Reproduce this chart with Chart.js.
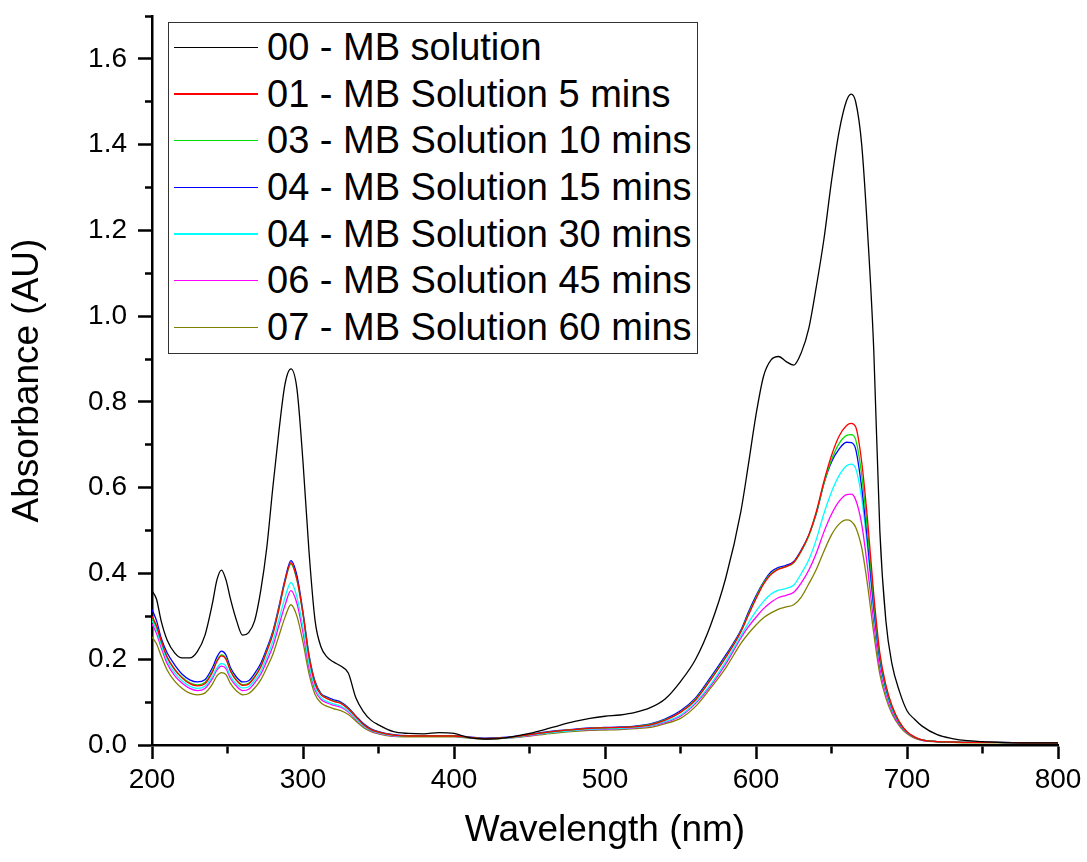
<!DOCTYPE html>
<html>
<head>
<meta charset="utf-8">
<script src="https://cdn.jsdelivr.net/npm/chart.js@4.4.1/dist/chart.umd.min.js"></script>
<style>
  html, body { margin: 0; padding: 0; background: #ffffff; }
  #wrap { position: relative; width: 1087px; height: 862px; }
  #chart { position: absolute; left: 0; top: 0; }
  #legend {
    position: absolute; left: 168px; top: 22px; width: 530px; height: 332px;
    box-sizing: border-box; border: 1px solid #333333; padding-top: 1px;
    background: #ffffff; font-family: 'Liberation Sans', Arial, sans-serif; font-size: 38px; color: #000;
  }
  #legend .row { display: flex; align-items: center; height: 46.67px; line-height: 46.67px; white-space: nowrap; }
  #legend .sw { display: block; flex: none; width: 84px; height: 1.4px; margin-left: 5px; margin-right: 9px; }
</style>
</head>
<body>
<div id="wrap">
  <canvas id="chart" width="1087" height="862"></canvas>
  <div id="legend"></div>
</div>
<script>
// ---------------- data ----------------
const wavelengths = [
  200,203,206,210,215,220,225,230,235,240,
  243,246,249,252,256,260,264,268,272,276,
  280,284,288,292,296,300,304,308,312,316,
  320,325,330,335,340,345,350,360,370,380,
  390,400,410,420,430,440,450,460,470,480,
  490,500,510,520,530,540,550,560,570,580,
  590,595,600,605,610,615,620,625,630,635,
  640,645,650,655,660,663,666,670,674,678,
  682,686,690,695,700,705,710,720,730,740,
  750,760,780,800
];

const s00 = [
  0.36,0.34,0.29,0.245,0.215,0.203,0.203,0.218,0.255,0.33,
  0.385,0.408,0.385,0.34,0.29,0.256,0.262,0.29,0.36,0.46,
  0.6,0.73,0.84,0.877,0.83,0.66,0.45,0.29,0.228,0.205,
  0.194,0.184,0.168,0.11,0.078,0.058,0.047,0.031,0.027,0.026,
  0.029,0.027,0.017,0.014,0.015,0.02,0.027,0.036,0.046,0.055,
  0.062,0.067,0.07,0.076,0.087,0.108,0.148,0.2,0.28,0.39,
  0.545,0.655,0.77,0.86,0.898,0.906,0.894,0.886,0.915,0.972,
  1.07,1.18,1.315,1.43,1.503,1.518,1.5,1.4,1.19,0.92,
  0.5,0.29,0.19,0.125,0.08,0.06,0.044,0.024,0.015,0.01,
  0.008,0.006,0.005,0.005
];

const s01 = [
  0.30,0.278,0.245,0.205,0.176,0.156,0.143,0.138,0.143,0.17,
  0.195,0.208,0.2,0.172,0.15,0.139,0.142,0.158,0.182,0.218,
  0.258,0.316,0.38,0.425,0.386,0.305,0.205,0.143,0.117,0.108,
  0.102,0.097,0.084,0.066,0.048,0.036,0.03,0.023,0.021,0.021,
  0.021,0.021,0.018,0.015,0.016,0.019,0.024,0.029,0.033,0.036,
  0.039,0.04,0.041,0.043,0.047,0.058,0.076,0.105,0.152,0.204,
  0.264,0.303,0.341,0.375,0.398,0.41,0.416,0.426,0.453,0.49,
  0.545,0.615,0.675,0.72,0.745,0.75,0.742,0.66,0.52,0.35,
  0.215,0.14,0.092,0.054,0.031,0.019,0.012,0.008,0.007,0.006,
  0.006,0.006,0.005,0.005
];

const s03 = [
  0.295,0.275,0.242,0.205,0.177,0.158,0.145,0.14,0.146,0.173,
  0.197,0.21,0.202,0.174,0.152,0.141,0.144,0.16,0.184,0.22,
  0.26,0.318,0.38,0.422,0.384,0.305,0.206,0.144,0.118,0.109,
  0.103,0.098,0.085,0.066,0.048,0.036,0.03,0.023,0.021,0.021,
  0.021,0.021,0.018,0.015,0.016,0.019,0.024,0.029,0.033,0.036,
  0.039,0.04,0.041,0.043,0.048,0.059,0.077,0.107,0.154,0.206,
  0.265,0.306,0.344,0.378,0.4,0.411,0.416,0.425,0.452,0.488,
  0.542,0.61,0.665,0.703,0.722,0.724,0.712,0.63,0.495,0.335,
  0.208,0.136,0.09,0.052,0.03,0.018,0.012,0.008,0.007,0.006,
  0.006,0.006,0.005,0.005
];

const s04a = [
  0.316,0.29,0.25,0.215,0.187,0.165,0.152,0.147,0.152,0.18,
  0.205,0.219,0.21,0.18,0.158,0.147,0.15,0.167,0.19,0.225,
  0.265,0.322,0.385,0.43,0.395,0.31,0.21,0.148,0.12,0.112,
  0.106,0.1,0.087,0.068,0.05,0.038,0.031,0.024,0.022,0.022,
  0.022,0.022,0.019,0.016,0.017,0.02,0.025,0.03,0.034,0.037,
  0.04,0.041,0.042,0.044,0.049,0.061,0.08,0.11,0.158,0.21,
  0.268,0.31,0.348,0.38,0.404,0.414,0.419,0.428,0.455,0.49,
  0.54,0.61,0.66,0.69,0.706,0.705,0.69,0.6,0.47,0.32,
  0.2,0.133,0.088,0.051,0.03,0.018,0.012,0.008,0.007,0.006,
  0.006,0.006,0.005,0.005
];

const s04b = [
  0.29,0.268,0.235,0.197,0.168,0.149,0.137,0.132,0.137,0.16,
  0.18,0.19,0.184,0.16,0.142,0.133,0.136,0.151,0.172,0.205,
  0.242,0.292,0.343,0.379,0.345,0.275,0.188,0.134,0.11,0.101,
  0.096,0.091,0.079,0.062,0.045,0.034,0.028,0.022,0.02,0.02,
  0.02,0.02,0.017,0.015,0.016,0.018,0.023,0.027,0.031,0.034,
  0.037,0.038,0.039,0.041,0.045,0.055,0.07,0.1,0.142,0.195,
  0.255,0.285,0.312,0.335,0.352,0.361,0.365,0.373,0.4,0.432,
  0.48,0.54,0.59,0.628,0.651,0.655,0.645,0.575,0.455,0.31,
  0.195,0.127,0.084,0.05,0.029,0.018,0.012,0.008,0.007,0.006,
  0.006,0.006,0.005,0.005
];

const s06 = [
  0.282,0.26,0.228,0.19,0.162,0.144,0.132,0.127,0.132,0.155,
  0.175,0.184,0.178,0.155,0.137,0.127,0.13,0.145,0.165,0.196,
  0.23,0.278,0.325,0.36,0.33,0.262,0.18,0.128,0.106,0.098,
  0.093,0.088,0.077,0.06,0.044,0.033,0.027,0.021,0.02,0.02,
  0.02,0.02,0.017,0.015,0.016,0.018,0.022,0.027,0.031,0.034,
  0.036,0.037,0.038,0.04,0.044,0.053,0.067,0.097,0.138,0.189,
  0.25,0.276,0.298,0.318,0.333,0.344,0.349,0.356,0.378,0.408,
  0.448,0.497,0.538,0.568,0.584,0.585,0.572,0.515,0.41,0.285,
  0.18,0.12,0.079,0.047,0.028,0.017,0.011,0.008,0.007,0.006,
  0.006,0.006,0.005,0.005
];

const s07 = [
  0.252,0.236,0.208,0.175,0.149,0.132,0.121,0.117,0.121,0.142,
  0.161,0.169,0.164,0.143,0.126,0.117,0.12,0.133,0.152,0.18,
  0.211,0.254,0.297,0.327,0.3,0.24,0.166,0.118,0.098,0.09,
  0.085,0.08,0.071,0.056,0.041,0.031,0.026,0.02,0.019,0.019,
  0.019,0.019,0.016,0.014,0.015,0.017,0.021,0.025,0.029,0.032,
  0.034,0.035,0.036,0.038,0.041,0.05,0.062,0.09,0.133,0.18,
  0.237,0.26,0.28,0.297,0.308,0.317,0.322,0.327,0.345,0.376,
  0.41,0.452,0.49,0.515,0.525,0.522,0.508,0.46,0.37,0.26,
  0.165,0.11,0.073,0.044,0.026,0.016,0.011,0.007,0.006,0.005,
  0.005,0.005,0.005,0.005
];

const seriesLabels = [
  '00 - MB solution',
  '01 - MB Solution 5 mins',
  '03 - MB Solution 10 mins',
  '04 - MB Solution 15 mins',
  '04 - MB Solution 30 mins',
  '06 - MB Solution 45 mins',
  '07 - MB Solution 60 mins'
];
const seriesValues = [s00, s01, s03, s04a, s04b, s06, s07];
const seriesColors = ['#000000', '#ff0000', '#00e000', '#0000ff', '#00ffff', '#ff00ff', '#808000'];

const xTickLabels = ['200', '300', '400', '500', '600', '700', '800'];
const yTickLabels = ['0.0', '0.2', '0.4', '0.6', '0.8', '1.0', '1.2', '1.4', '1.6'];

// ---------------- chart ----------------
const FONT = "'Liberation Sans', Arial, sans-serif";

const datasets = seriesValues.map((vals, i) => ({
  label: seriesLabels[i],
  data: wavelengths.map((w, j) => ({ x: w, y: vals[j] })),
  borderColor: seriesColors[i],
  backgroundColor: seriesColors[i],
  borderWidth: 1.3,
  pointRadius: 0,
  cubicInterpolationMode: 'monotone',
  fill: false
}));

const htmlLegend = {
  id: 'htmlLegend',
  afterInit(chart) {
    const box = document.getElementById('legend');
    box.innerHTML = '';
    chart.data.datasets.forEach(ds => {
      const row = document.createElement('div');
      row.className = 'row';
      const sw = document.createElement('span');
      sw.className = 'sw';
      sw.style.backgroundColor = ds.borderColor;
      const tx = document.createElement('span');
      tx.textContent = ds.label;
      row.appendChild(sw);
      row.appendChild(tx);
      box.appendChild(row);
    });
  }
};

const isMinorY = v => Math.round(v * 10) % 2 !== 0;
const isMinorX = v => Math.round(v) % 100 !== 0;

new Chart(document.getElementById('chart'), {
  type: 'line',
  data: { datasets },
  plugins: [htmlLegend],
  options: {
    responsive: false,
    animation: false,
    events: [],
    layout: { padding: { left: 0, top: 16, right: 29, bottom: 0 } },
    plugins: { legend: { display: false }, tooltip: { enabled: false } },
    scales: {
      x: {
        type: 'linear',
        min: 200, max: 800,
        afterFit(scale) { scale.height = 117; },
        border: { display: true, color: '#000', width: 2.5 },
        grid: {
          drawOnChartArea: false, drawTicks: true, tickLength: 14,
          tickWidth: 2.5, tickColor: '#000',
          tickBorderDash: ctx => (ctx.tick && isMinorX(ctx.tick.value)) ? [7, 100] : [],
          tickBorderDashOffset: 0
        },
        ticks: {
          stepSize: 50, autoSkip: false, maxRotation: 0, minRotation: 0,
          padding: 4, color: '#000',
          font: { family: FONT, size: 28, lineHeight: 1.2 },
          callback: v => isMinorX(v) ? '' : (xTickLabels[Math.round((v - 200) / 100)] ?? '')
        },
        title: {
          display: true, text: 'Wavelength (nm)', color: '#000',
          font: { family: FONT, size: 37, lineHeight: 1.2 },
          padding: { top: 0, bottom: 9 }
        }
      },
      y: {
        type: 'linear',
        min: 0, max: 1.7,
        afterFit(scale) { scale.width = 152; },
        border: { display: true, color: '#000', width: 2.5 },
        grid: {
          drawOnChartArea: false, drawTicks: true, tickLength: 14,
          tickWidth: 2.5, tickColor: '#000',
          tickBorderDash: ctx => (ctx.tick && isMinorY(ctx.tick.value)) ? [7, 7] : [],
          tickBorderDashOffset: ctx => (ctx.tick && isMinorY(ctx.tick.value)) ? 7 : 0
        },
        ticks: {
          stepSize: 0.1, autoSkip: false, padding: 11, color: '#000',
          font: { family: FONT, size: 28, lineHeight: 0.3 },
          callback: v => isMinorY(v) ? '' : (yTickLabels[Math.round(v * 5)] ?? '')
        },
        title: {
          display: true, text: 'Absorbance (AU)', color: '#000',
          font: { family: FONT, size: 37, lineHeight: 1.2 },
          padding: { top: 6, bottom: 0 }
        }
      }
    }
  }
});
</script>
</body>
</html>
